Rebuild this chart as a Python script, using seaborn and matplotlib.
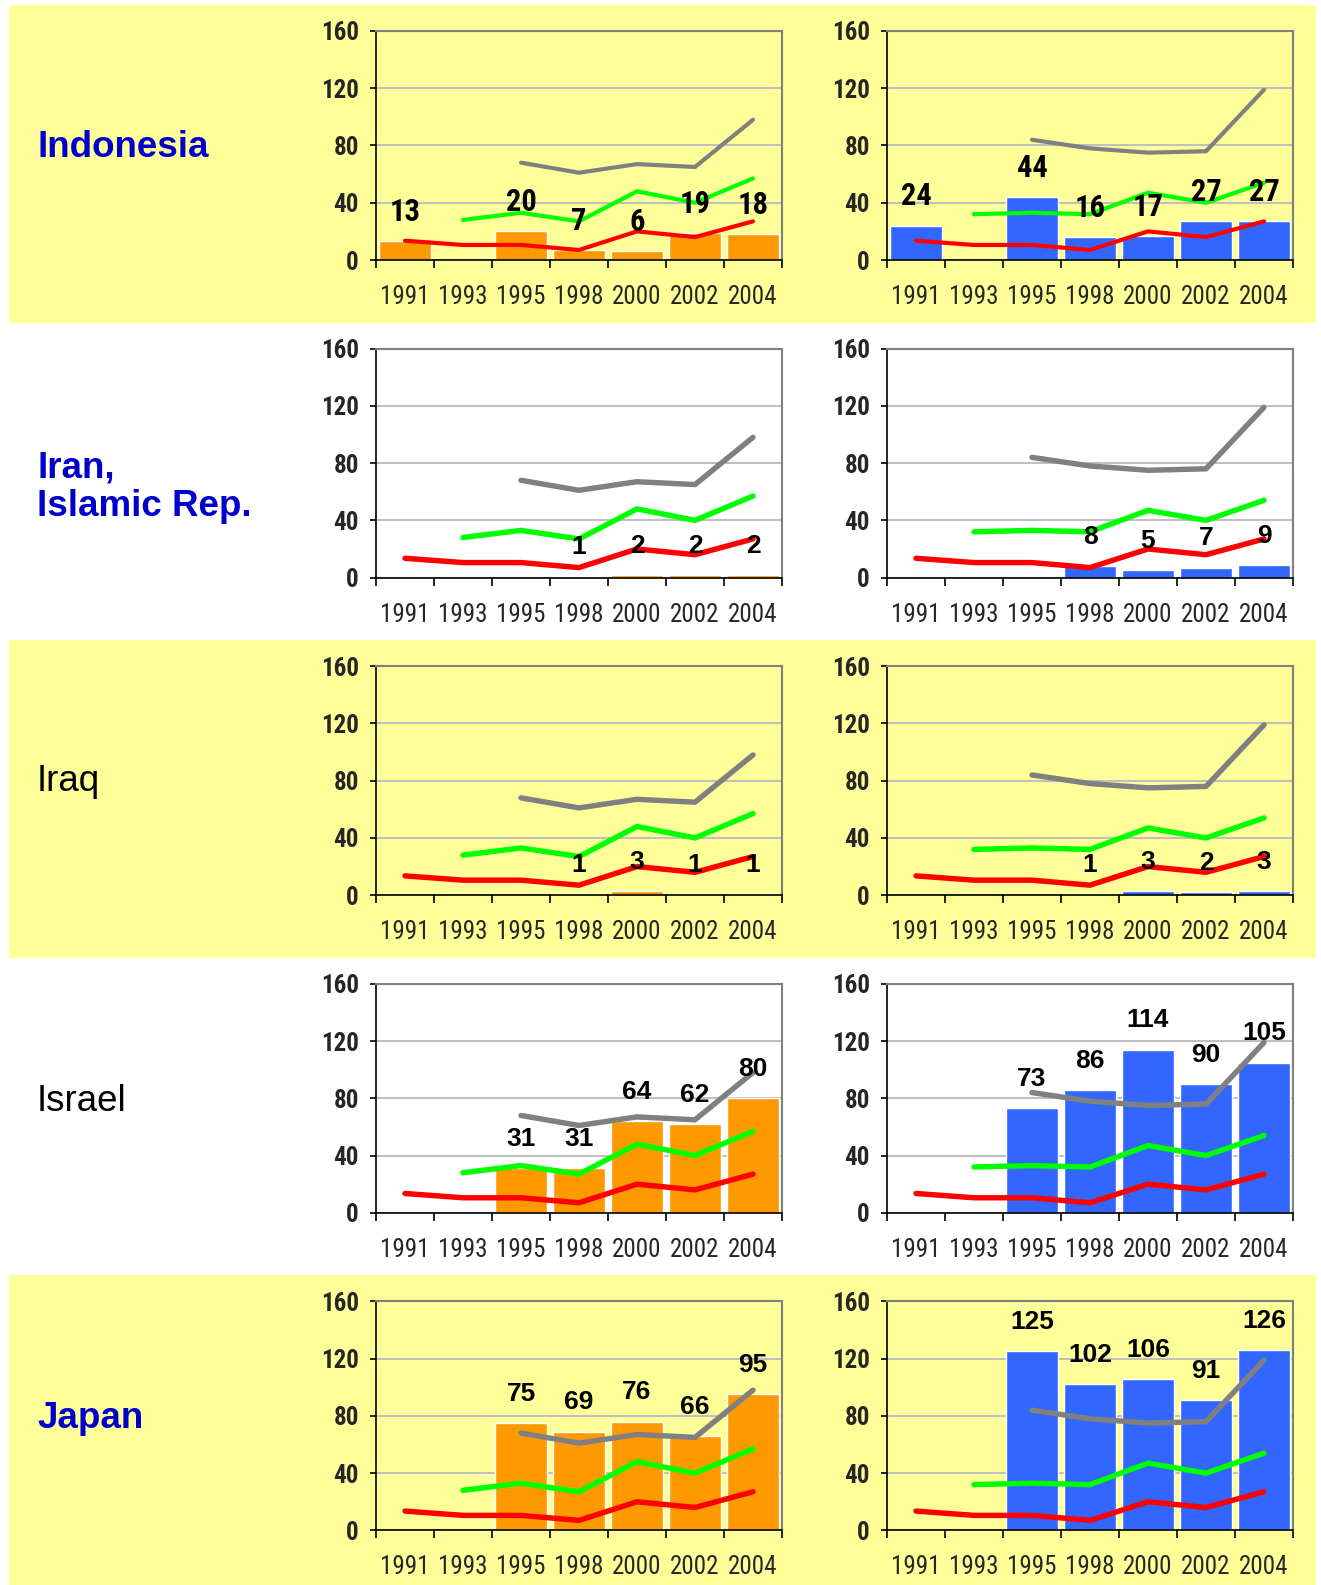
import numpy as np
import pandas as pd
import matplotlib
matplotlib.use("Agg")
import matplotlib.pyplot as plt
from matplotlib.patches import Rectangle
from matplotlib import font_manager as fm
import seaborn as sns

# ---------------- data ----------------
years = ["1991", "1993", "1995", "1998", "2000", "2002", "2004"]
countries = ["Indonesia", "Iran,\nIslamic Rep.", "Iraq", "Israel", "Japan"]

nan = np.nan
# reference lines (same in every row)
left_gray = [nan, nan, 68, 61, 67, 65, 98]
left_green = [nan, 28, 33, 27, 48, 40, 57]
left_red = [13.5, 10.5, 10.5, 7, 20, 16, 27]
right_gray = [nan, nan, 84, 78, 75, 76, 119]
right_green = [nan, 32, 33, 32, 47, 40, 54]
right_red = [13.5, 10.5, 10.5, 7, 20, 16, 27]

# bar values (left = orange, right = blue)
indonesia_left = [13, nan, 20, 7, 6, 19, 18]
indonesia_right = [24, nan, 44, 16, 17, 27, 27]
iran_left = [nan, nan, nan, 1, 2, 2, 2]
iran_right = [nan, nan, nan, 8, 5, 7, 9]
iraq_left = [nan, nan, nan, 1, 3, 1, 1]
iraq_right = [nan, nan, nan, 1, 3, 2, 3]
israel_left = [nan, nan, 31, 31, 64, 62, 80]
israel_right = [nan, nan, 73, 86, 114, 90, 105]
japan_left = [nan, nan, 75, 69, 76, 66, 95]
japan_right = [nan, nan, 125, 102, 106, 91, 126]

left_values = [indonesia_left, iran_left, iraq_left, israel_left, japan_left]
right_values = [indonesia_right, iran_right, iraq_right, israel_right, japan_right]
yticks = [0, 40, 80, 120, 160]

# ---------------- style ----------------
sns.set_theme(style="white")
plt.rcParams["font.family"] = ["Liberation Sans", "DejaVu Sans"]


def pick_font(cands):
    for c in cands:
        try:
            fm.findfont(fm.FontProperties(family=c), fallback_to_default=False)
            return c
        except Exception:
            pass
    return None


NARROW_NAME = pick_font(["Liberation Sans Narrow", "Arial Narrow", "Roboto Condensed",
                         "Open Sans Condensed", "Noto Sans Condensed"])
if NARROW_NAME:
    NARROW = [NARROW_NAME, "Liberation Sans", "DejaVu Sans"]
    XT_SIZE, YT_SIZE, LBL0 = 18, 18, 22
else:
    NARROW = ["Liberation Sans", "DejaVu Sans"]
    XT_SIZE, YT_SIZE, LBL0 = 15.5, 16, 19

YELLOW = "#FFFF99"
ORANGE = "#FF9900"
BLUE = "#3366FF"
GRAY = "#808080"
GREEN = "#00FF00"
RED = "#FF0000"
NAVY = "#0000CC"

W, H = 1321, 1585
fig = plt.figure(figsize=(W / 100, H / 100), dpi=100)
fig.patch.set_facecolor("white")

ROW_STEP = 317.6
# background bands
for r in range(5):
    if r % 2 == 0:
        top = 5 + r * ROW_STEP
        bottom = min(top + 318, H)
        fig.add_artist(Rectangle((9 / W, 1 - bottom / H), (1316 - 9) / W, (bottom - top) / H,
                                 transform=fig.transFigure, facecolor=YELLOW,
                                 edgecolor="none", zorder=-10))

pos = np.arange(len(years))


def draw(ax, vals, color, refs, bg, lw, lbl_family, lbl_size):
    ax.set_facecolor(bg)
    df = pd.DataFrame({"pos": pos, "val": vals}).dropna()
    sns.barplot(data=df, x="pos", y="val", native_scale=True, width=0.9,
                color=color, saturation=1, errorbar=None, ax=ax, zorder=2)
    for rvals, rcol in refs:
        s = pd.DataFrame({"pos": pos, "v": rvals}).dropna()
        sns.lineplot(data=s, x="pos", y="v", color=rcol, lw=lw, ax=ax,
                     solid_capstyle="round", solid_joinstyle="round", zorder=3)
    for p, v in zip(pos, vals):
        if not np.isnan(v):
            ax.annotate(f"{v:g}", (p, v), xytext=(0, 21), textcoords="offset points",
                        ha="center", va="center", fontsize=lbl_size, fontweight="bold",
                        family=lbl_family, color="black", zorder=5)
    ax.set_xlim(-0.5, len(years) - 0.5)
    ax.set_ylim(0, 160)
    ax.set_yticks(yticks)
    ax.set_yticklabels([str(t) for t in yticks])
    ax.set_xticks(pos)
    ax.set_xticklabels(years)
    ax.set_xticks(np.arange(len(years) + 1) - 0.5, minor=True)
    ax.tick_params(axis="x", which="major", length=0, pad=18, labelsize=XT_SIZE)
    ax.tick_params(axis="x", which="minor", length=6, width=1.2, color="black",
                   direction="out", bottom=True)
    ax.tick_params(axis="y", which="major", length=4.5, width=1.2, color="black",
                   direction="out", pad=8, labelsize=YT_SIZE, left=True)
    for lbl in ax.get_xticklabels():
        lbl.set_family(NARROW)
    for lbl in ax.get_yticklabels():
        lbl.set_family(NARROW)
        lbl.set_fontweight("bold")
    ax.yaxis.grid(True, color="#C0C0C0", lw=1.5)
    ax.xaxis.grid(False)
    ax.set_axisbelow(True)
    ax.set_xlabel("")
    ax.set_ylabel("")
    for side in ["left", "bottom"]:
        ax.spines[side].set_color("black")
        ax.spines[side].set_linewidth(1.2)
    for side in ["top", "right"]:
        ax.spines[side].set_color(GRAY)
        ax.spines[side].set_linewidth(1.5)


label_offsets = [2, 24, 1, 3, 3]
for r in range(5):
    top = 31 + r * ROW_STEP
    bg = YELLOW if r % 2 == 0 else "white"
    lw = 3.0 if r == 0 else 3.9
    if r == 0:
        lfam, lsize = NARROW, LBL0
    else:
        lfam, lsize = ["Liberation Sans", "DejaVu Sans"], 19
    axL = fig.add_axes([376 / W, 1 - (top + 229) / H, 406 / W, 229 / H])
    draw(axL, left_values[r], ORANGE,
         [(left_gray, GRAY), (left_green, GREEN), (left_red, RED)], bg, lw, lfam, lsize)
    axR = fig.add_axes([887 / W, 1 - (top + 229) / H, 406 / W, 229 / H])
    draw(axR, right_values[r], BLUE,
         [(right_gray, GRAY), (right_green, GREEN), (right_red, RED)], bg, lw, lfam, lsize)
    bold = r in (0, 1, 4)
    yc = top + 114.5 + label_offsets[r]
    fig.text(37 / W, 1 - yc / H, countries[r], ha="left", va="center",
             fontsize=26.5, fontweight="bold" if bold else "normal",
             color=NAVY if bold else "black", linespacing=1.15)

fig.savefig("out.png", dpi=100)
